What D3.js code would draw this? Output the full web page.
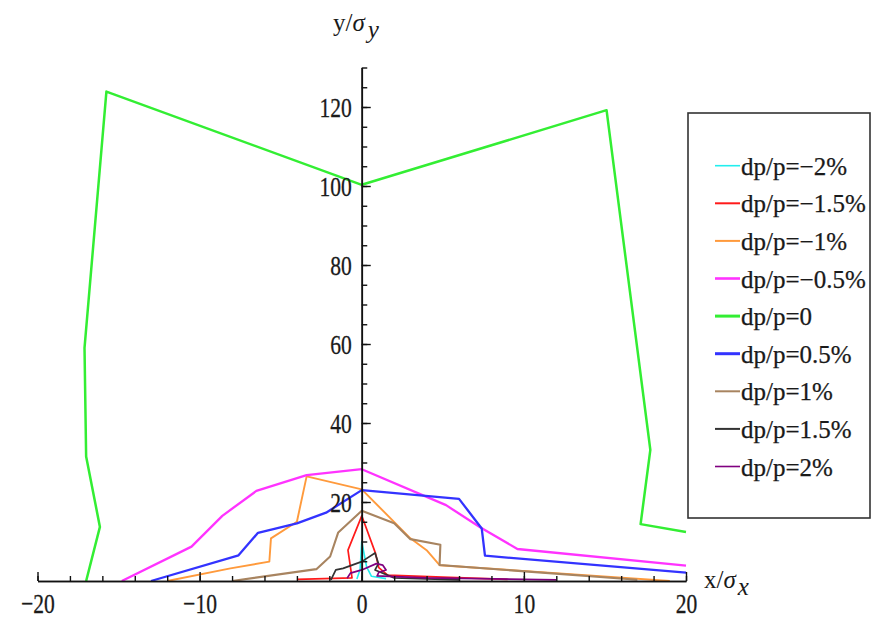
<!DOCTYPE html>
<html>
<head>
<meta charset="utf-8">
<script src="https://cdn.jsdelivr.net/npm/d3@7"></script>
<style>
  body { margin: 0; background: #fff; }
  svg text { font-family: "Liberation Serif", "Times New Roman", "DejaVu Serif", serif; }
</style>
</head>
<body>
<svg id="chart" width="878" height="618"></svg>
<script>
// series points [x/σx, y/σy]
const dpM20 = [[-0.3, 0.5], [-0.1, 3], [0, 10], [0.3, 3.6], [0.6, 1.2], [1.5, 0.6]];
const dpM15 = [[-4, 0.4], [-0.6, 0.8], [-0.85, 7.8], [0, 16.5], [0.85, 7], [1.05, 3.4], [1.6, 1.5], [5, 1], [9, 0.4]];
const dpM10 = [[-12, 0], [-8.1, 3.2], [-5.7, 4.9], [-5.6, 10.8], [-4.0, 15], [-3.4, 26.5], [0, 23.2], [3.0, 10.8], [4.0, 7.8], [4.8, 4], [19, 0]];
const dpM05 = [[-14.8, 0], [-10.5, 8.7], [-8.6, 16.5], [-6.5, 22.8], [-3.4, 26.8], [0, 28.3], [5.2, 19.2], [7.3, 13.6], [9.6, 8.1], [20, 3.9]];
const dp00 = [[-17, 0], [-16.15, 13.7], [-17, 31.5], [-17.1, 59], [-15.75, 123.9], [0, 100.3], [15.1, 119.2], [17.8, 33.2], [17.2, 14.4], [20, 12.4]];
const dpP05 = [[-13, 0], [-7.6, 6.5], [-6.4, 12.2], [-4, 14.6], [-2.2, 17.3], [0, 23], [6, 20.8], [7.4, 13.3], [7.6, 6.4], [20, 2.1]];
const dpP10 = [[-8, 0], [-2.8, 3.0], [-1.95, 6.2], [-1.45, 12.3], [0, 17.8], [2, 14.6], [3, 10.6], [4.85, 9.2], [4.8, 4.05], [17, 0.3]];
const dpP15 = [[-1.9, 0.3], [-1.6, 2.8], [-1.15, 3.2], [0, 4.9], [0.82, 7.1], [1.03, 4.4], [0.82, 2.8], [2, 0.8], [6, 0.3]];
const dpP20 = [[-0.9, 0.7], [-0.7, 2], [0, 2.8], [0.9, 4.4], [1.3, 4], [1.5, 2.8], [1.05, 2.2], [0.95, 1.3], [4, 0.8], [12, 0.3]];

const labels = ["dp/p=\u22122%", "dp/p=\u22121.5%", "dp/p=\u22121%", "dp/p=\u22120.5%", "dp/p=0",
                "dp/p=0.5%", "dp/p=1%", "dp/p=1.5%", "dp/p=2%"];
const colors = ["#22eeee", "#ff1a1a", "#ff9a3c", "#ff33ff", "#33ee33", "#3333ff", "#a88460", "#333333", "#800080"];
const widths = [1.6, 1.7, 1.9, 2.3, 2.5, 2.3, 2.1, 1.7, 1.7];
const legendWidths = [1.6, 2, 2, 2.6, 3, 3, 2, 2, 1.6];

const xMajor = [-20, -10, 0, 10, 20];
const xMinor = d3.range(-20, 21, 2);
const yMajor = [20, 40, 60, 80, 100, 120];
const yMinor = d3.range(5, 131, 5);

const series = [dpM20, dpM15, dpM10, dpM05, dp00, dpP05, dpP10, dpP15, dpP20];

/**
 * SCALES
 */
const x = d3.scaleLinear().domain([-20, 20]).range([37.5, 686]);
const y = d3.scaleLinear().domain([0, 130]).range([581, 67.5]);

const svg = d3.select("#chart");
const fmt = v => (v < 0 ? "\u2212" + Math.abs(v) : "" + v);
const SX = 0.77; // tick labels are narrow and tall in the original
const SERIF = "'Liberation Serif', 'Times New Roman', 'DejaVu Serif', serif";
const INK = "#1a1a1a";

/**
 * LINES
 */
const line = d3.line().x(d => x(d[0])).y(d => y(d[1]));

svg.append("g")
  .selectAll("path")
  .data(series)
  .join("path")
  .attr("d", line)
  .attr("fill", "none")
  .attr("stroke", (d, i) => colors[i])
  .attr("stroke-width", (d, i) => widths[i])
  .attr("stroke-linejoin", "round");

/**
 * AXES
 */
const xAxisMinor = d3.axisBottom(x).tickValues(xMinor).tickSize(-5).tickSizeOuter(0).tickFormat("");
const xAxisMajor = d3.axisBottom(x).tickValues(xMajor).tickSize(-9).tickSizeOuter(0).tickFormat(fmt);

const gx = svg.append("g").attr("transform", `translate(0,${y(0)})`);
gx.call(xAxisMinor);
gx.append("g").call(xAxisMajor);
gx.selectAll("g").attr("font-family", SERIF);
gx.selectAll("path.domain").attr("stroke", "#111").attr("stroke-width", 1.6);
gx.selectAll("line").attr("stroke", "#111").attr("stroke-width", 1.4);
gx.selectAll("text")
  .attr("y", 32).attr("dy", null)
  .attr("transform", `scale(${SX},1)`)
  .attr("fill", INK)
  .attr("stroke", INK).attr("stroke-width", 0.3)
  .attr("font-family", SERIF)
  .style("font-size", "28px");

const yAxisMinor = d3.axisLeft(y).tickValues(yMinor).tickSize(-5.5).tickSizeOuter(0).tickFormat("");
const yAxisMajor = d3.axisLeft(y).tickValues(yMajor).tickSize(-9).tickSizeOuter(0).tickFormat(fmt);

const gy = svg.append("g").attr("transform", `translate(${x(0)},0)`);
gy.call(yAxisMinor);
gy.append("g").call(yAxisMajor);
gy.selectAll("g").attr("font-family", SERIF);
gy.selectAll("path.domain").attr("stroke", "#111").attr("stroke-width", 1.6);
gy.selectAll("line").attr("stroke", "#111").attr("stroke-width", 1.4);
gy.selectAll("text")
  .attr("x", -10 / SX).attr("dy", "0.34em")
  .attr("transform", `scale(${SX},1)`)
  .attr("fill", INK)
  .attr("stroke", INK).attr("stroke-width", 0.3)
  .attr("font-family", SERIF)
  .style("font-size", "28px");

/**
 * AXIS LABELS
 */
const yLab = svg.append("text")
  .attr("x", 333).attr("y", 31)
  .attr("font-family", SERIF)
  .style("font-size", "25px").attr("fill", INK);
yLab.append("tspan").text("y/");
yLab.append("tspan").style("font-style", "italic").text("\u03c3");
yLab.append("tspan").attr("dx", 3).attr("dy", 7).style("font-style", "italic").text("y");

const xLab = svg.append("text")
  .attr("x", 704).attr("y", 588)
  .attr("font-family", SERIF)
  .style("font-size", "25px").attr("fill", INK);
xLab.append("tspan").text("x/");
xLab.append("tspan").style("font-style", "italic").text("\u03c3");
xLab.append("tspan").attr("dx", 2).attr("dy", 7).style("font-style", "italic").text("x");

/**
 * LEGEND
 */
const legend = svg.append("g");
legend.append("rect")
  .attr("x", 688).attr("y", 113)
  .attr("width", 182).attr("height", 405)
  .attr("fill", "#fff")
  .attr("stroke", "#333")
  .attr("stroke-width", 1.6);

const rows = legend.selectAll("g.row")
  .data(labels)
  .join("g")
  .attr("class", "row")
  .attr("transform", (d, i) => `translate(0,${165.7 + i * 37.6})`);

rows.append("line")
  .attr("x1", 715).attr("x2", 740)
  .attr("stroke", (d, i) => colors[i])
  .attr("stroke-width", (d, i) => legendWidths[i]);

rows.append("text")
  .attr("x", 741).attr("y", 9)
  .attr("font-family", SERIF)
  .style("font-size", "25px")
  .attr("fill", INK)
  .attr("stroke", INK).attr("stroke-width", 0.25)
  .text(d => d);
</script>
</body>
</html>
